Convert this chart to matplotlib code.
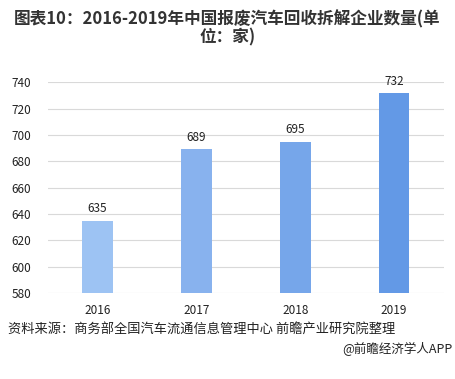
import matplotlib
matplotlib.use("Agg")
import matplotlib.pyplot as plt

plt.rcParams["font.family"] = ["Noto Sans CJK SC", "DejaVu Sans"]

years = ["2016", "2017", "2018", "2019"]
counts = [635, 689, 695, 732]
bar_colors = ["#9dc3f3", "#88b2ee", "#76a6ea", "#6399e6"]
y_ticks = [580, 600, 620, 640, 660, 680, 700, 720, 740]

fig = plt.figure(figsize=(4.55, 3.79), dpi=100)
ax = fig.add_axes([0.105, 0.227, 0.87, 0.556])

x = range(len(years))
bars = ax.bar(x, [c - 580 for c in counts], bottom=580, width=0.31,
              color=bar_colors, zorder=3)
for xi, c in zip(x, counts):
    ax.text(xi, c + 4, str(c), ha="center", va="bottom",
            fontsize=8.5, color="#222222")

ax.set_xlim(-0.5, 3.5)
ax.set_ylim(580, 740)
ax.set_yticks(y_ticks)
ax.set_xticks(list(x))
ax.set_xticklabels(years)
ax.tick_params(axis="both", length=0, labelsize=8.5, colors="#222222")
ax.tick_params(axis="y", pad=12)
ax.tick_params(axis="x", pad=8)
ax.grid(axis="y", color="#d9d9d9", lw=0.8, zorder=0)
for sp in ax.spines.values():
    sp.set_visible(False)

fig.text(0.5, 0.925, "图表10：2016-2019年中国报废汽车回收拆解企业数量(单\n位：家)",
         ha="center", va="center", fontsize=12, fontweight="bold",
         color="#333333", linespacing=0.95)

fig.text(0.018, 0.128, "资料来源：商务部全国汽车流通信息管理中心 前瞻产业研究院整理",
         ha="left", va="center", fontsize=9.5, color="#222222")
fig.text(0.995, 0.078, "@前瞻经济学人APP", ha="right", va="center",
         fontsize=9, color="#222222")

fig.savefig("out.png", dpi=100, facecolor="white")
